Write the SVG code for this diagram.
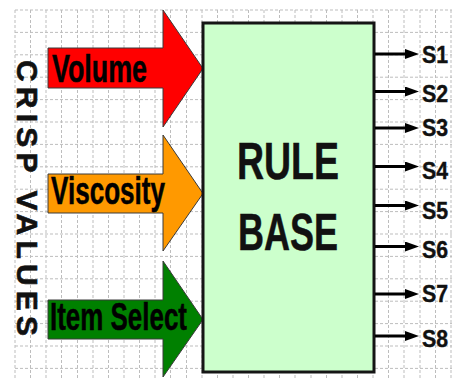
<svg xmlns="http://www.w3.org/2000/svg" width="452" height="378" viewBox="0 0 452 378">
<defs>
<style>
.grid{fill:none;stroke:#bdbdbd;stroke-width:1;stroke-dasharray:3,2}
.inarrow{stroke:#3a3a3a;stroke-width:1}
.lbl{font-family:"Liberation Sans",Arial,sans-serif;font-weight:bold;font-size:38px;fill:#000;stroke:#000;stroke-width:0.5}
.big{font-family:"Liberation Sans",Arial,sans-serif;font-weight:bold;font-size:51px;fill:#111;stroke:#111;stroke-width:0.5;text-anchor:middle}
.side{font-family:"Liberation Sans",Arial,sans-serif;font-weight:bold;font-size:30px;fill:#111;stroke:#111;stroke-width:0.6}
.out{font-family:"Liberation Sans",Arial,sans-serif;font-weight:bold;font-size:24px;fill:#111;stroke:#111;stroke-width:0.4}
.conn{stroke:#000;stroke-width:3;fill:none}
</style>
<marker id="ah" viewBox="0 0 14 10" refX="0" refY="5" markerWidth="14" markerHeight="10" markerUnits="userSpaceOnUse" orient="auto">
<path d="M0,0 L14,5 L0,10 Z" fill="#000"/>
</marker>
</defs>
<rect x="0" y="0" width="452" height="378" fill="#fff"/>
<path class="grid" d="M15,10V378 M30.5,10V378 M46,10V378 M61.5,10V378 M77.5,10V378 M93,10V378 M108.5,10V378 M124,10V378 M139.5,10V378 M155,10V378 M170.5,10V378 M186.5,10V378 M202,10V378 M217.5,10V378 M233,10V378 M248.5,10V378 M264,10V378 M279.5,10V378 M295,10V378 M311,10V378 M326.5,10V378 M342,10V378 M357.5,10V378 M373,10V378 M388.5,10V378 M404,10V378 M420,10V378 M435.5,10V378 M451,10V378 M15,10H452 M15,32.4H452 M15,54.8H452 M15,77.2H452 M15,99.6H452 M15,122H452 M15,144.4H452 M15,166.8H452 M15,189.2H452 M15,211.6H452 M15,234H452 M15,256.4H452 M15,278.8H452 M15,301.2H452 M15,323.6H452 M15,346H452 M15,368.4H452"/>
<text class="side" transform="translate(17,60) rotate(90)" x="0" y="0" textLength="276">CRISP VALUES</text>
<g id="volume">
<polygon class="inarrow" fill="#ff0000" points="48,48 163,48 163,10 203,68.5 163,127 163,88 48,88"/>
<text class="lbl" x="52" y="81.5" textLength="95" lengthAdjust="spacingAndGlyphs">Volume</text>
</g>
<g id="viscosity">
<polygon class="inarrow" fill="#ff9900" points="48,174 163,174 163,135 203,193.5 163,251 163,213 48,213"/>
<text class="lbl" x="51" y="204" textLength="114" lengthAdjust="spacingAndGlyphs">Viscosity</text>
</g>
<g id="itemselect">
<polygon class="inarrow" fill="#008000" points="48,300 163,300 163,261 203,319.5 163,377 163,339 48,339"/>
<text class="lbl" x="50" y="329.5" textLength="137" lengthAdjust="spacingAndGlyphs">Item Select</text>
</g>
<g id="rulebase">
<rect x="203" y="23" width="171" height="349" fill="#ccffcc" stroke="#151515" stroke-width="3"/>
<text class="big" x="288" y="178.5" textLength="102" lengthAdjust="spacingAndGlyphs">RULE</text>
<text class="big" x="288" y="250" textLength="100" lengthAdjust="spacingAndGlyphs">BASE</text>
</g>
<g id="connectors">
<line class="conn" x1="375" y1="54" x2="405" y2="54" marker-end="url(#ah)"/>
<line class="conn" x1="375" y1="91.5" x2="405" y2="91.5" marker-end="url(#ah)"/>
<line class="conn" x1="375" y1="128" x2="405" y2="128" marker-end="url(#ah)"/>
<line class="conn" x1="375" y1="166.5" x2="405" y2="166.5" marker-end="url(#ah)"/>
<line class="conn" x1="375" y1="205.5" x2="405" y2="205.5" marker-end="url(#ah)"/>
<line class="conn" x1="375" y1="246.5" x2="405" y2="246.5" marker-end="url(#ah)"/>
<line class="conn" x1="375" y1="294" x2="405" y2="294" marker-end="url(#ah)"/>
<line class="conn" x1="375" y1="336" x2="405" y2="336" marker-end="url(#ah)"/>
</g>
<g id="outputs">
<text class="out" x="422" y="62.5" textLength="26" lengthAdjust="spacingAndGlyphs">S1</text>
<text class="out" x="422" y="102" textLength="26" lengthAdjust="spacingAndGlyphs">S2</text>
<text class="out" x="422" y="135.5" textLength="26" lengthAdjust="spacingAndGlyphs">S3</text>
<text class="out" x="422" y="179" textLength="26" lengthAdjust="spacingAndGlyphs">S4</text>
<text class="out" x="422" y="219" textLength="26" lengthAdjust="spacingAndGlyphs">S5</text>
<text class="out" x="422" y="257.5" textLength="26" lengthAdjust="spacingAndGlyphs">S6</text>
<text class="out" x="422" y="302" textLength="26" lengthAdjust="spacingAndGlyphs">S7</text>
<text class="out" x="422" y="347" textLength="26" lengthAdjust="spacingAndGlyphs">S8</text>
</g>
</svg>
